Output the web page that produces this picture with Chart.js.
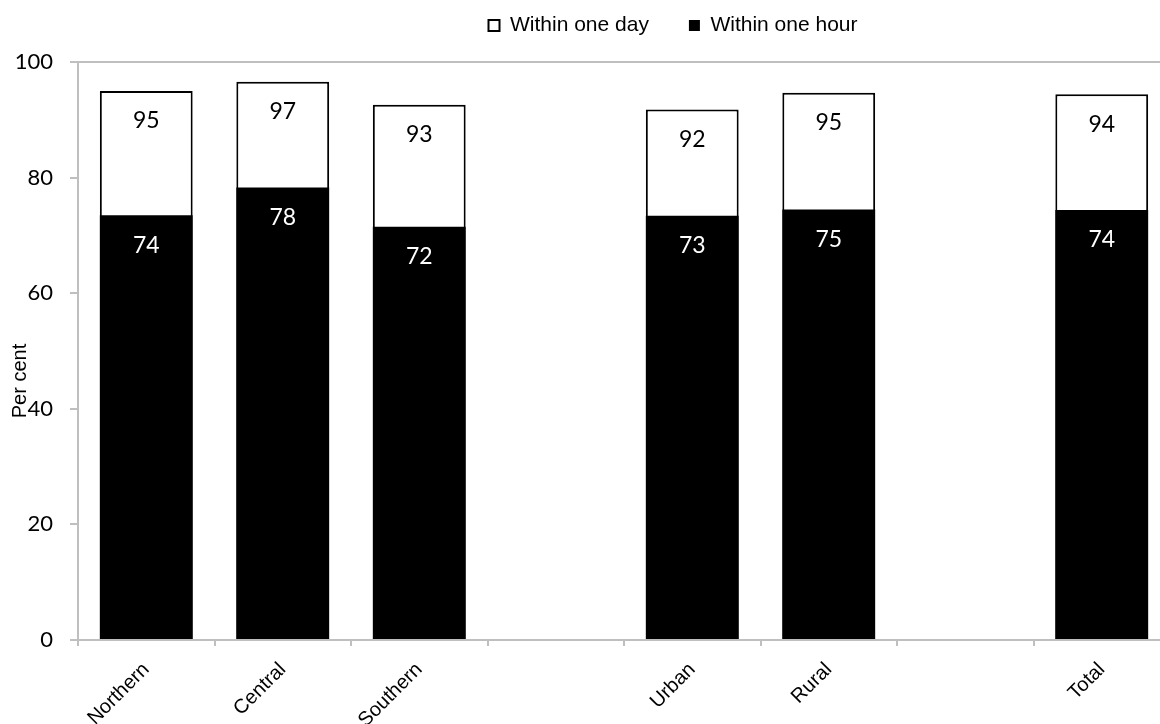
<!DOCTYPE html>
<html>
<head>
<meta charset="utf-8">
<script src="https://cdn.jsdelivr.net/npm/chart.js@4.4.1/dist/chart.umd.min.js"></script>
<style>
html, body { margin:0; padding:0; overflow:hidden; background:#fff; }
canvas { display:block; }
</style>
</head>
<body>
<canvas id="myChart" width="1170" height="724"></canvas>
<script>
const categories = ['Northern', 'Central', 'Southern', '', 'Urban', 'Rural', '', 'Total'];
const withinOneDay = [95.0, 96.6, 92.6, null, 91.8, 94.7, null, 94.4];
const withinOneHour = [73.5, 78.3, 71.5, null, 73.4, 74.5, null, 74.4];
const yMin = 0;
const yMax = 100;
const yStep = 20;

const axisGrey = '#bfbfbf';
const calibriLike = 'Lato';
const arialLike = '"Liberation Sans", Arial, sans-serif';

// value labels inside the bars, rounded like the source
const barLabels = {
    id:'barLabels',
    afterDatasetsDraw(chart){
        const ctx = chart.ctx;
        ctx.save();
        ctx.font = '23px ' + calibriLike;
        ctx.textAlign = 'center';
        ctx.textBaseline = 'middle';
        chart.data.datasets.forEach((ds, i) => {
            const meta = chart.getDatasetMeta(i);
            ctx.fillStyle = ds.labelColor;
            meta.data.forEach((bar, j) => {
                const v = ds.data[j];
                if(v === null) return;
                ctx.fillText(String(Math.round(v)), bar.x, bar.y + 30);
            });
        });
        ctx.restore();
    }
};

// y title sits over the tick labels in the original
const yTitle = {
    id:'yTitle',
    afterDraw(chart){
        const a = chart.chartArea;
        const ctx = chart.ctx;
        ctx.save();
        ctx.translate(a.left - 58, (a.top + a.bottom) / 2 + 30);
        ctx.rotate(-Math.PI / 2);
        ctx.font = '20px ' + arialLike;
        ctx.fillStyle = '#000';
        ctx.textAlign = 'center';
        ctx.textBaseline = 'middle';
        ctx.fillText('Per cent', 0, 0);
        ctx.restore();
    }
};

// legend is off-centre in the original
const legendNudge = {
    id:'legendNudge',
    afterLayout(chart){
        const lg = chart.legend;
        lg.left += 88;
        lg.right += 88;
        lg.top -= 16;
        lg.bottom -= 16;
    }
};

const data = {
    labels:categories,
    datasets:[
        {
            label:'Within one hour',
            data:withinOneHour,
            backgroundColor:'#000000',
            borderColor:'#000000',
            borderWidth:0,
            labelColor:'#ffffff'
        },
        {
            label:'Within one day',
            data:withinOneDay,
            backgroundColor:'#ffffff',
            borderColor:'#000000',
            borderWidth:2,
            labelColor:'#000000'
        }
    ]
};

const conf = {
    type:'bar',
    data:data,
    options:{
        responsive:false,
        animation:false,
        layout:{
            padding:{top:-9, left:0, right:0, bottom:0}
        },
        datasets:{
            bar:{
                grouped:false,
                categoryPercentage:0.8,
                barPercentage:0.85
            }
        },
        plugins:{
            legend:{
                position:'top',
                labels:{
                    sort:(a, b) => b.datasetIndex - a.datasetIndex,
                    boxWidth:11,
                    boxHeight:11,
                    padding:40,
                    color:'#000',
                    font:{family:arialLike, size:21}
                }
            },
            tooltip:{enabled:false}
        },
        scales:{
            x:{
                afterFit(scale){ scale.height = 84; },
                grid:{
                    offset:true,
                    drawOnChartArea:false,
                    color:axisGrey,
                    tickLength:6,
                    lineWidth:2
                },
                border:{color:axisGrey, width:2},
                ticks:{
                    autoSkip:false,
                    minRotation:45,
                    maxRotation:45,
                    padding:12,
                    color:'#000',
                    font:{family:arialLike, size:20}
                }
            },
            y:{
                min:yMin,
                max:yMax,
                afterFit(scale){ scale.width = 78; },
                grid:{
                    drawOnChartArea:true,
                    color:(c) => (c.tick && c.tick.value === yMax) ? axisGrey : 'rgba(0,0,0,0)',
                    tickColor:axisGrey,
                    tickLength:8,
                    lineWidth:2
                },
                border:{color:axisGrey, width:2},
                ticks:{
                    stepSize:yStep,
                    padding:17,
                    color:'#000',
                    font:{family:calibriLike, size:22}
                }
            }
        }
    },
    plugins:[barLabels, yTitle, legendNudge]
};

const ctx = document.getElementById('myChart').getContext('2d');
const chart = new Chart(ctx, conf);
</script>
</body>
</html>
